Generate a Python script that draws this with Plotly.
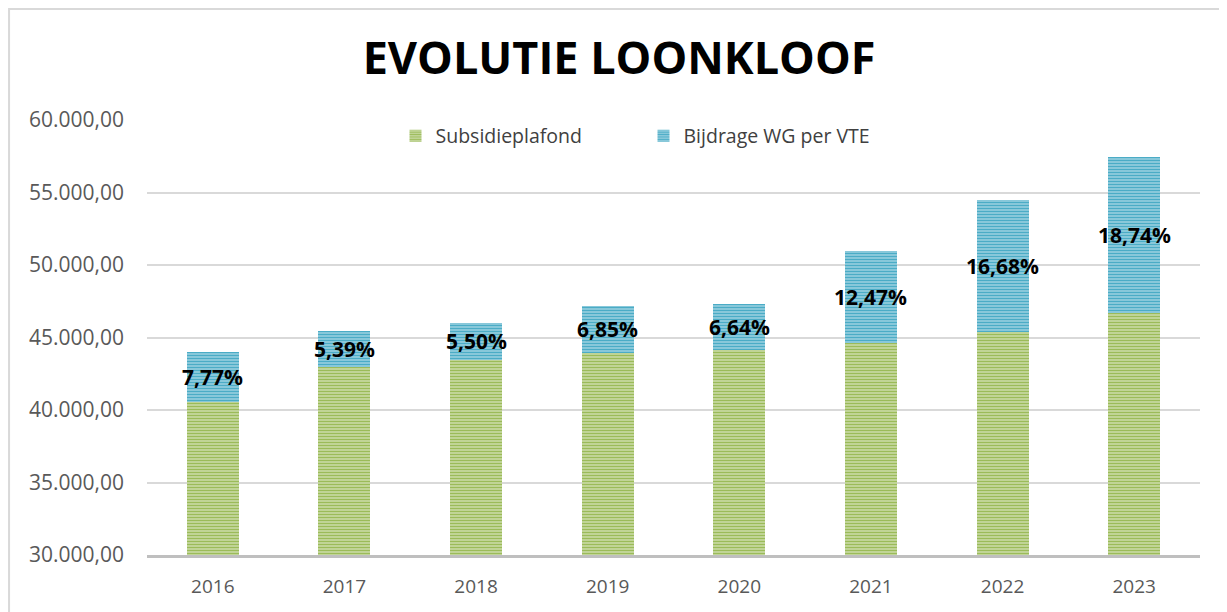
import plotly.graph_objects as go

years = ["2016", "2017", "2018", "2019", "2020", "2021", "2022", "2023"]
subsidieplafond = [40580, 43000, 43470, 43940, 44170, 44610, 45400, 46680]
bijdrage_wg = [3420, 2450, 2530, 3230, 3140, 6355, 9090, 10770]
pct_labels = ["7,77%", "5,39%", "5,50%", "6,85%", "6,64%", "12,47%", "16,68%", "18,74%"]
y_ticks = [30000, 35000, 40000, 45000, 50000, 55000, 60000]

GREEN = "#9BBB59"
GREEN_LIGHT = "#DCE8C4"
BLUE = "#4BACC6"
BLUE_LIGHT = "#BFE2EC"

fig = go.Figure()
fig.add_trace(go.Bar(
    x=years, y=subsidieplafond, name="Subsidieplafond",
    marker=dict(color=GREEN, line=dict(width=0),
                pattern=dict(shape="-", fgcolor=GREEN, bgcolor=GREEN_LIGHT,
                             size=3, solidity=0.62, fillmode="replace")),
    hoverinfo="skip",
))
fig.add_trace(go.Bar(
    x=years, y=bijdrage_wg, name="Bijdrage WG per VTE",
    marker=dict(color=BLUE, line=dict(width=0),
                pattern=dict(shape="-", fgcolor=BLUE, bgcolor=BLUE_LIGHT,
                             size=3, solidity=0.65, fillmode="replace")),
    hoverinfo="skip",
))

# percentage labels centred on the blue segment (category index on the x axis)
for i, (g, b, lab) in enumerate(zip(subsidieplafond, bijdrage_wg, pct_labels)):
    fig.add_annotation(x=i, y=g + b / 2, text=f"<b>{lab}</b>", showarrow=False,
                       font=dict(family="Open Sans", size=21, color="#000000"),
                       xanchor="center", yanchor="middle")

# outer chart border (light grey), as in the original
fig.add_shape(type="rect", xref="paper", yref="paper",
              x0=-0.131, x1=1.2, y0=-0.3, y1=1.255,
              line=dict(color="#D9D9D9", width=2), layer="below")

fig.update_layout(
    width=1227, height=612,
    barmode="stack", bargap=0.605,
    paper_bgcolor="white", plot_bgcolor="white",
    margin=dict(l=139, r=35, t=112, b=65, autoexpand=False),
    title=dict(text="<b>EVOLUTIE LOONKLOOF</b>", x=0.498, xanchor="center",
               y=0.918, yanchor="middle", xref="container", yref="container",
               font=dict(family="Open Sans", size=45, color="#000000")),
    legend=dict(orientation="h", xref="paper", x=0.236, xanchor="left",
                yref="paper", y=0.963, yanchor="middle",
                font=dict(family="Open Sans", size=19.5, color="#404040"),
                bgcolor="rgba(0,0,0,0)", traceorder="normal",
                entrywidth=203, entrywidthmode="pixels"),
    separators=",.",
    font=dict(family="Open Sans", color="#595959"),
    showlegend=True,
)
fig.update_yaxes(range=[30000, 60000], tickvals=y_ticks, tickformat=",.2f",
                 showgrid=True, gridcolor="#D9D9D9", gridwidth=1.5,
                 zeroline=False, showline=False, ticks="",
                 tickfont=dict(family="Open Sans", size=21, color="#595959"),
                 ticklabelstandoff=22)
fig.update_xaxes(type="category", range=[-0.5, len(years) - 0.5],
                 showline=True, linecolor="#BFBFBF", linewidth=2.5,
                 ticks="", tickfont=dict(family="Open Sans", size=19, color="#595959"),
                 ticklabelstandoff=12)

fig.write_html("out.html")
